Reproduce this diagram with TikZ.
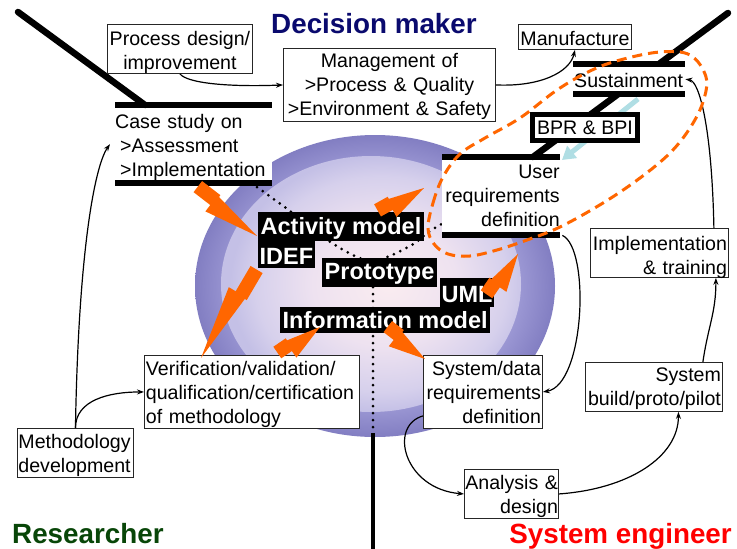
\documentclass[tikz,border=0pt]{standalone}
\usepackage{fontspec}
\setmainfont{Liberation Sans}
\usetikzlibrary{arrows.meta}
\hyphenpenalty=10000
\exhyphenpenalty=10000
\definecolor{dmblue}{RGB}{10,10,110}
\definecolor{rgreen}{RGB}{8,70,8}
\definecolor{sered}{RGB}{255,0,0}
\definecolor{orng}{RGB}{255,102,0}
\definecolor{lblue}{RGB}{176,222,228}
\definecolor{inA}{RGB}{250,236,240}
\definecolor{inB}{RGB}{238,226,240}
\definecolor{inC}{RGB}{214,208,236}
\definecolor{inD}{RGB}{196,192,230}
\definecolor{ringL}{RGB}{156,152,212}
\definecolor{ringD}{RGB}{130,126,194}
\pgfdeclareradialshading{innershade}{\pgfpoint{3bp}{0bp}}{color(0bp)=(inA); color(12bp)=(inB); color(21bp)=(inC); color(25bp)=(inD); color(50bp)=(inD)}
\pgfdeclareradialshading{ringshade}{\pgfpoint{0bp}{0bp}}{color(0bp)=(ringL); color(20bp)=(ringL); color(25bp)=(ringD); color(50bp)=(ringD)}
\newcommand\zzbolt[2]{%
  \path (#1); \pgfgetlastxy{\zzxa}{\zzya}%
  \path (#2); \pgfgetlastxy{\zzxb}{\zzyb}%
  \pgfmathsetmacro\zzL{veclen(\zzxb-\zzxa,\zzyb-\zzya)}%
  \pgfmathsetmacro\zzA{atan2(\zzyb-\zzya,\zzxb-\zzxa)}%
  \begin{scope}[shift={(\zzxa,\zzya)}, rotate=\zzA, x=1pt, y=1pt]
    \fill[orng] (0,-4) -- (0.3*\zzL,-4) -- (0.3*\zzL,10) -- (0,10) -- cycle;
    \fill[orng] (0.3*\zzL-2,-12) -- (\zzL,0) -- (0.3*\zzL-2,8) -- cycle;
  \end{scope}}
\tikzset{
  box/.style={draw=black!85, line width=0.9pt, fill=white, inner ysep=0pt, inner xsep=1.5pt, anchor=north west},
  phase/.style={fill=white, inner sep=0pt, anchor=north west},
  lbl/.style={fill=black, text=white, font=\bfseries\fontsize{23.5}{28}\selectfont, inner xsep=2.5pt, inner ysep=0pt, anchor=base west},
  title/.style={font=\bfseries\fontsize{27.8}{32}\selectfont, inner sep=0pt},
  arr/.style={draw=black, line width=1.2pt, -{Stealth[length=7pt,width=5pt]}},
  bar/.style={line width=6pt},
  pole/.style={line width=6.5pt, line cap=round},
  dotpath/.style={line width=3pt, line cap=round, dash pattern=on 0pt off 7pt},
  dashloop/.style={draw=orng, line width=3pt, dash pattern=on 10pt off 6pt}
}
\begin{document}
\begin{tikzpicture}[x=1pt, y=-1pt, font=\fontsize{19.6}{24}\selectfont]
\useasboundingbox[fill=white] (0,0) rectangle (737,549);

% ellipse
\shade[shading=ringshade] (375,286) ellipse [x radius=180, y radius=151];
\shade[shading=innershade] (371,284) ellipse [x radius=150, y radius=128];

% dotted paths
\draw[dotpath] plot[smooth] coordinates {(257,187) (290,211) (335,245) (372,261) (410,246) (430,231) (447,221)};
\draw[dotpath] (373,287) -- (373,431);

% coordinates
\coordinate (dmA) at (18,12);
\coordinate (seA) at (728,13);
\coordinate (vt) at (373,433);
\coordinate (vb) at (373,549);
\coordinate (lbs) at (638,99);
\coordinate (lbe) at (562,160);

% bottom pole
\draw[line width=4.5pt] (vt) -- (vb);

% phase nodes (white areas)
\node[phase, text width=157pt, align=left, text height=23pt, text depth=55pt] (case) at (115,105)
  {Case study on\\\hspace*{5pt}>Assessment\\\hspace*{5pt}>Implementation};
\node[phase, text width=117pt, inner xsep=0.5pt, align=right, text height=21pt, text depth=57pt] (ureq) at (442,157)
  {User\\requirements\\definition};

% diagonals
\draw[pole] (dmA) -- ([xshift=30pt]case.north west);
\draw[pole] (seA) -- ([xshift=91pt]ureq.north west);

% sustainment
\node[phase, text width=110pt, inner xsep=1pt, align=left, text height=23pt, text depth=7pt] (sust) at (573,64) {Sustainment};

% light blue arrow
\draw[lblue, line width=5pt, -{Triangle[length=13pt,width=15pt]}] (lbs) -- (lbe);

% BPR box
\node[draw=black, line width=5pt, fill=white, minimum width=105pt, minimum height=26pt, inner sep=0pt] (bpr) at (585,127.5) {BPR \& BPI};

% bars
\draw[bar] (case.north west) -- (case.north east);
\draw[bar] (case.south west) -- (case.south east);
\draw[bar] (ureq.north west) -- (ureq.north east);
\draw[bar] (ureq.south west) -- (ureq.south east);
\draw[bar] (sust.north west) -- (sust.north east);
\draw[bar] (sust.south west) -- (sust.south east);

% boxes
\node[box, text width=142pt, align=center, text height=21pt, text depth=28pt] (proc) at (107,24) {Process design/\\improvement};
\node[box, text width=209pt, align=center, text height=19pt, text depth=54pt] (mgmt) at (283,48) {Management of\\>Process \& Quality\\>Environment \& Safety};
\node[box, inner xsep=1pt, text width=111pt, align=center, text height=21pt, text depth=4pt] (manuf) at (518,24) {Manufacture};
\node[box, text width=135pt, align=right, text height=22pt, text depth=27pt] (impl) at (590,228) {Implementation\\\& training};
\node[box, text width=116pt, align=right, text height=20pt, text depth=53pt] (sysdata) at (423,355) {System/data\\requirements\\definition};
\node[box, text width=134pt, align=right, text height=19pt, text depth=30pt] (sysbuild) at (585,362) {System\\build/proto/pilot};
\node[box, inner xsep=0.5pt, text width=93pt, align=right, text height=20pt, text depth=29pt] (analysis) at (464,469) {Analysis~\&\\design};
\node[box, text width=212pt, align=left, text height=20pt, text depth=53pt] (verif) at (144,355) {Verification/validation/\\qualification/certification\\of methodology};
\node[box, inner xsep=1pt, text width=114pt, align=left, text height=20pt, text depth=29pt] (method) at (17,428) {Methodology\\development};

% black labels
\node[lbl, text height=22pt, text depth=7pt] (act) at (258,234) {Activity model};
\node[lbl, inner xsep=1.5pt, text height=23pt, text depth=4pt] (idef) at (258,264) {IDEF};
\node[lbl, text height=21pt, text depth=8pt] (proto) at (322,279) {Prototype};
\node[lbl, inner xsep=1.5pt, text height=24pt, text depth=5pt] (uml) at (440,302) {UML};
\node[lbl, text height=21pt, text depth=5pt] (info) at (280,328) {Information model};

% titles
\node[title, text=dmblue, anchor=base] (dm) at (374,33) {Decision maker};
\node[title, text=rgreen, anchor=base west] (res) at (12,543) {Researcher};
\node[title, text=sered, anchor=base east] (se) at (732,543) {System engineer};

% thin arrows
\draw[arr] (proc.south) .. controls +(8,10) and +(-50,2) .. (mgmt.west);
\draw[arr] (mgmt.east) .. controls +(45,2) and +(-5,22) .. (manuf.south);
\draw[arr] ([xshift=-15pt]impl.north east) .. controls +(-2,-100) and +(14,2) .. (sust.east);
\draw[arr] ([xshift=-20pt]sysbuild.north east) .. controls +(5,-35) and +(0,35) .. ([xshift=-13pt]impl.south east);
\draw[arr] (analysis.east) .. controls +(70,-5) and +(0,45) .. ([xshift=24.5pt]sysbuild.south);
\draw[arr] ([yshift=13pt]sysdata.south west) .. controls +(-35,10) and +(-60,-5) .. (analysis.west);
\draw[arr] ([xshift=2pt]ureq.south east) .. controls +(28,13) and +(42,-7) .. (sysdata.east);
\draw[arr] (method.north) .. controls +(0,-28) and +(-35,0) .. (verif.west);
\draw[arr] (method.north) .. controls +(3,-178) and +(-15,21) .. ([xshift=-5pt]case.west);

% dashed loop
\draw[dashloop] plot[smooth cycle, tension=0.6] coordinates {(428,228) (433,203) (443,177) (460,154) (485,138) (520,118) (557,90) (590,71) (620,60) (660,52) (690,55) (706,77) (703,102) (690,128) (670,153) (640,178) (603,203) (560,227) (527,240) (497,250) (470,256) (448,254) (434,244)};

% lightning arrows
\coordinate (b1s) at (196,189); \coordinate (b1e) at (257,236);
\coordinate (b2s) at (254,268); \coordinate (b2e) at (201,358);
\coordinate (b3s) at (279,355); \coordinate (b3e) at (320,327);
\coordinate (b4s) at (379,213); \coordinate (b4e) at (424,188);
\coordinate (b5s) at (489,296); \coordinate (b5e) at (518,254);
\coordinate (b6s) at (386,329); \coordinate (b6e) at (425,359);
\zzbolt{b1s}{b1e}
\zzbolt{b2s}{b2e}
\zzbolt{b3s}{b3e}
\zzbolt{b4s}{b4e}
\zzbolt{b5s}{b5e}
\zzbolt{b6s}{b6e}
\end{tikzpicture}
\end{document}
